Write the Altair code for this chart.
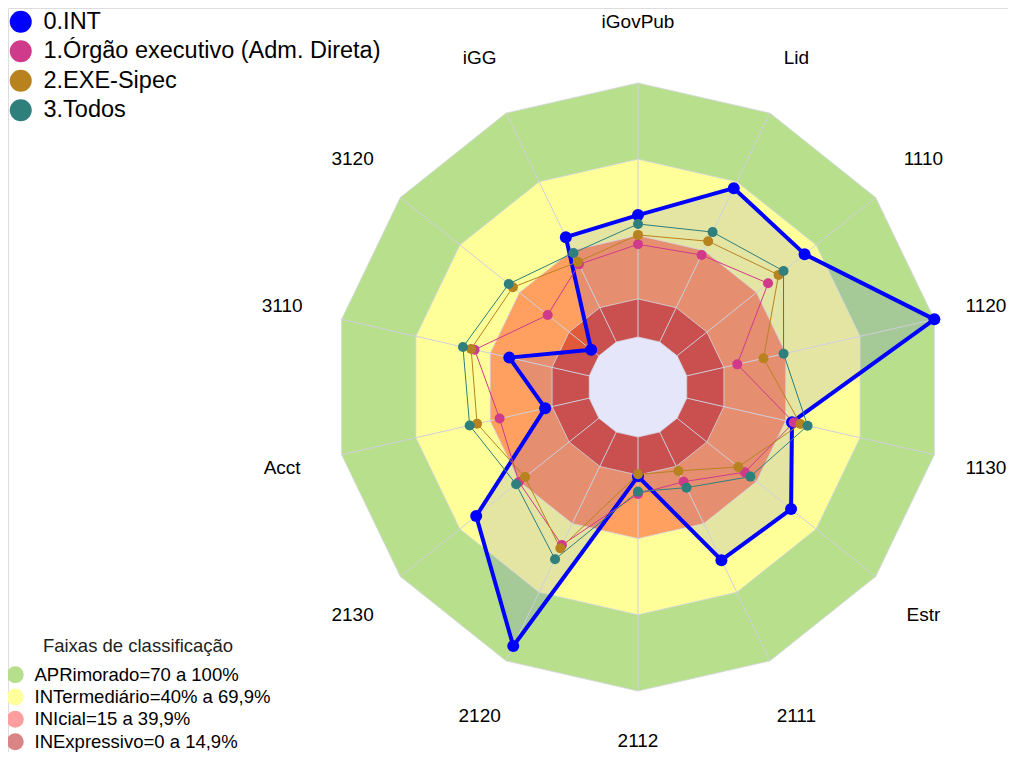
import altair as alt
import pandas as pd

# ---------------- data ----------------
axes = ["iGovPub", "Lid", "1110", "1120", "1130", "Estr", "2111", "2112",
        "2120", "2130", "Acct", "3110", "3120", "iGG"]
series = ["0.INT", "1.Órgão executivo (Adm. Direta)", "2.EXE-Sipec", "3.Todos"]
int_vals = [48.0, 67.2, 64.2, 100.0, 42.5, 57.4, 56.0, 15.5, 93.5, 61.8, 17.8, 32.3, 3.9, 45.8]
org_vals = [36.5, 38.0, 45.8, 20.4, 43.2, 34.1, 21.7, 22.4, 49.4, 40.3, 36.2, 46.3, 25.8, 33.9]
sip_vals = [40.2, 44.0, 51.1, 31.0, 45.9, 30.8, 17.0, 14.7, 50.8, 37.2, 45.3, 47.7, 43.3, 35.0]
tod_vals = [44.5, 48.0, 53.6, 39.1, 48.8, 36.9, 24.3, 21.5, 55.6, 41.7, 48.3, 51.0, 45.4, 38.9]
series_vals = [int_vals, org_vals, sip_vals, tod_vals]
series_colors = ["#0000FF", "#CF3A8A", "#B8821F", "#2F7F7D"]

band_names = ["APRimorado=70 a 100%", "INTermediário=40% a 69,9%",
              "INIcial=15 a 39,9%", "INExpressivo=0 a 14,9%"]
band_upper = [100, 70, 40, 15]
band_fill = ["#B8E08C", "#FFFF99", "#FFA060", "#E05A3A"]
band_legend_colors = ["#B5DF8C", "#FFFF9C", "#FF9E9E", "#D98585"]
hole_color = "#E6E6FA"
grid_levels = [0, 15, 40, 70, 100]

N = len(axes)

# ---------------- tables ----------------
ser_rows = []
for s, vals in zip(series, series_vals):
    for k in range(N + 1):
        ser_rows.append({"series": s, "k": k, "value": vals[k % N]})
ser_df = pd.DataFrame(ser_rows)

poly_rows = []
for name, up in zip(band_names, band_upper):
    for k in range(N + 1):
        poly_rows.append({"band": name, "k": k, "value": up})
for k in range(N + 1):
    poly_rows.append({"band": "hole", "k": k, "value": 0})
poly_df = pd.DataFrame(poly_rows)

ring_rows = []
for lv in grid_levels:
    for k in range(N + 1):
        ring_rows.append({"level": lv, "k": k, "value": lv})
ring_df = pd.DataFrame(ring_rows)

spoke_rows = []
for k in range(N):
    for v in (0, 100):
        spoke_rows.append({"k": k, "value": v})
spoke_df = pd.DataFrame(spoke_rows)

label_df = pd.DataFrame({"axis": axes, "k": list(range(N))})

legend_df = pd.DataFrame({"band": band_names, "k": [0] * 4, "value": [0] * 4})

# ---------------- helpers ----------------
xs = alt.Scale(domain=[-630, 370], nice=False, zero=False)
ys = alt.Scale(domain=[-365, 379], nice=False, zero=False)
R_EXPR = "50 + 2.54 * datum.value"


def polar(chart, rexpr=R_EXPR):
    return chart.transform_calculate(
        r=rexpr, ang=f"datum.k * 2 * PI / {N}"
    ).transform_calculate(
        px="datum.r * sin(datum.ang)", py="datum.r * cos(datum.ang)"
    )


X = alt.X("px:Q", scale=xs, axis=None)
Y = alt.Y("py:Q", scale=ys, axis=None)

layers = []

# dummy layer carrying the band legend (hidden under the centre)
dummy = polar(alt.Chart(legend_df)).mark_circle(size=4, opacity=1).encode(
    x=X, y=Y,
    fill=alt.Fill("band:N", scale=alt.Scale(domain=band_names, range=band_legend_colors),
                  legend=alt.Legend(title="Faixas de classificação", orient="none",
                                    legendX=-2, legendY=629, titleFontSize=18.5,
                                    titleFontWeight="normal", titleAnchor="middle",
                                    titlePadding=10, titleColor="#222222", titleLimit=600,
                                    symbolType="circle", symbolSize=289,
                                    symbolStrokeWidth=0, symbolOpacity=1,
                                    labelFontSize=18.5, labelOffset=10, rowPadding=3.3,
                                    labelLimit=600, padding=0, labelColor="black")),
)
layers.append(dummy)

for name, col in zip(band_names, band_fill):
    layers.append(
        polar(alt.Chart(poly_df).transform_filter(alt.datum.band == name))
        .mark_line(fill=col, stroke=col, strokeWidth=0, strokeOpacity=0)
        .encode(x=X, y=Y, order=alt.Order("k:Q"))
    )

# INT translucent fill
layers.append(
    polar(alt.Chart(ser_df).transform_filter(alt.datum.series == series[0]))
    .mark_line(fill="#0000FF", fillOpacity=0.1, stroke="#0000FF", strokeWidth=0, strokeOpacity=0)
    .encode(x=X, y=Y, order=alt.Order("k:Q"))
)

# centre hole
layers.append(
    polar(alt.Chart(poly_df).transform_filter(alt.datum.band == "hole"))
    .mark_line(fill=hole_color, stroke=hole_color, strokeWidth=0, strokeOpacity=0)
    .encode(x=X, y=Y, order=alt.Order("k:Q"))
)

# grid rings and spokes
layers.append(
    polar(alt.Chart(ring_df)).mark_line(color="#D4D4E2", strokeWidth=1, opacity=0.8)
    .encode(x=X, y=Y, order=alt.Order("k:Q"), detail="level:N")
)
layers.append(
    polar(alt.Chart(spoke_df)).mark_line(color="#CFCFDD", strokeWidth=1)
    .encode(x=X, y=Y, order=alt.Order("value:Q"), detail="k:N")
)

# series lines
for i, (s, col) in enumerate(zip(series, series_colors)):
    layers.append(
        polar(alt.Chart(ser_df).transform_filter(alt.datum.series == s))
        .mark_line(color=col, strokeWidth=4 if i == 0 else 1, strokeJoin="round")
        .encode(x=X, y=Y, order=alt.Order("k:Q"))
    )

# series points (one layer, drawn in series order)
layers.append(
    polar(alt.Chart(ser_df).transform_filter(alt.datum.k < N))
    .mark_circle(opacity=1)
    .encode(
        x=X, y=Y,
        color=alt.Color("series:N", scale=alt.Scale(domain=series, range=series_colors),
                        legend=alt.Legend(title=None, orient="none", legendX=1, legendY=2,
                                          symbolType="circle", symbolSize=484,
                                          symbolStrokeWidth=0, labelFontSize=23.5,
                                          labelOffset=11, rowPadding=4.5, labelLimit=600,
                                          padding=0, labelColor="black")),
        size=alt.condition(alt.datum.series == series[0], alt.value(144), alt.value(100)),
    )
)

# axis labels (kept inside the page edge)
labels = alt.Chart(label_df).transform_calculate(
    ang=f"datum.k * 2 * PI / {N}"
).transform_calculate(
    px="min(365 * sin(datum.ang), 348)", py="max(365 * cos(datum.ang), -354)"
).mark_text(fontSize=19, color="black", align="center", baseline="middle").encode(
    x=X, y=Y, text="axis:N"
)
layers.append(labels)

chart = alt.layer(*layers).properties(
    width=1000, height=744, padding=0,
    autosize=alt.AutoSizeParams(type="none"),
    background="white",
).configure_view(strokeWidth=0, stroke=None).configure(font="Liberation Sans")

chart.save("out.html", embed_options={"renderer": "svg", "actions": False})
